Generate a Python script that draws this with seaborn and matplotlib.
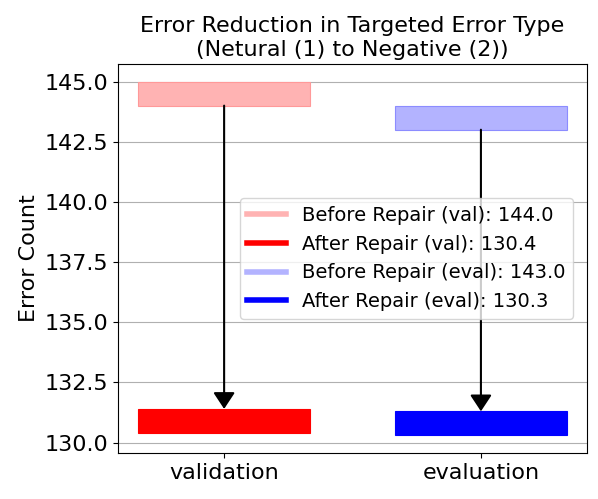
import matplotlib
matplotlib.use("Agg")
import matplotlib.pyplot as plt
import seaborn as sns
from matplotlib.lines import Line2D

#%% Data
splits = ["validation", "evaluation"]
short = ["val", "eval"]
before = [144.0, 143.0]
after = [130.4, 130.3]
bar_height = 1

#%% Plot
fig, ax = plt.subplots(figsize=(5.98, 4.99), dpi=100)

before_colors = [(1, 0.7, 0.7), (0.7, 0.7, 1)]
before_edges = [(1, 0.6, 0.6), (0.55, 0.55, 1)]
after_colors = ["red", "blue"]

for i, split in enumerate(splits):
    sns.barplot(x=[split], y=[bar_height], order=splits, bottom=before[i],
                color=before_colors[i], saturation=1, width=0.67,
                edgecolor=before_edges[i], linewidth=0.8, ax=ax)
    sns.barplot(x=[split], y=[bar_height], order=splits, bottom=after[i],
                color=after_colors[i], saturation=1, width=0.67,
                edgecolor=after_colors[i], linewidth=0.8, ax=ax)
    ax.annotate("", xy=(i, after[i] + bar_height), xytext=(i, before[i]),
                arrowprops=dict(arrowstyle="-|>,head_width=0.33,head_length=0.5",
                                color="black", lw=1.5, mutation_scale=20,
                                shrinkA=0, shrinkB=0))

ax.set_xlim(-0.414, 1.414)
ax.set_yticks([130.0, 132.5, 135.0, 137.5, 140.0, 142.5, 145.0])
ax.yaxis.set_major_formatter(matplotlib.ticker.FormatStrFormatter("%.1f"))
ax.set_ylim(129.565, 145.735)
ax.yaxis.grid(True, color="#b0b0b0", lw=0.8)
ax.set_axisbelow(True)

handles = []
labels = []
for i in range(2):
    handles.append(Line2D([], [], color=before_colors[i], lw=4))
    labels.append(f"Before Repair ({short[i]}): {before[i]:.1f}")
    handles.append(Line2D([], [], color=after_colors[i], lw=4))
    labels.append(f"After Repair ({short[i]}): {after[i]:.1f}")
ax.legend(handles, labels, loc="center right", fontsize=14,
          bbox_to_anchor=(0.97, 0.50), borderaxespad=0)

ax.set_title("Error Reduction in Targeted Error Type\n(Netural (1) to Negative (2))", fontsize=16)
ax.set_ylabel("Error Count", fontsize=16)
ax.set_xlabel("")
ax.tick_params(axis="both", labelsize=16)

fig.subplots_adjust(left=0.197, right=0.982, top=0.872, bottom=0.092)
plt.savefig("out.png", dpi=100)
